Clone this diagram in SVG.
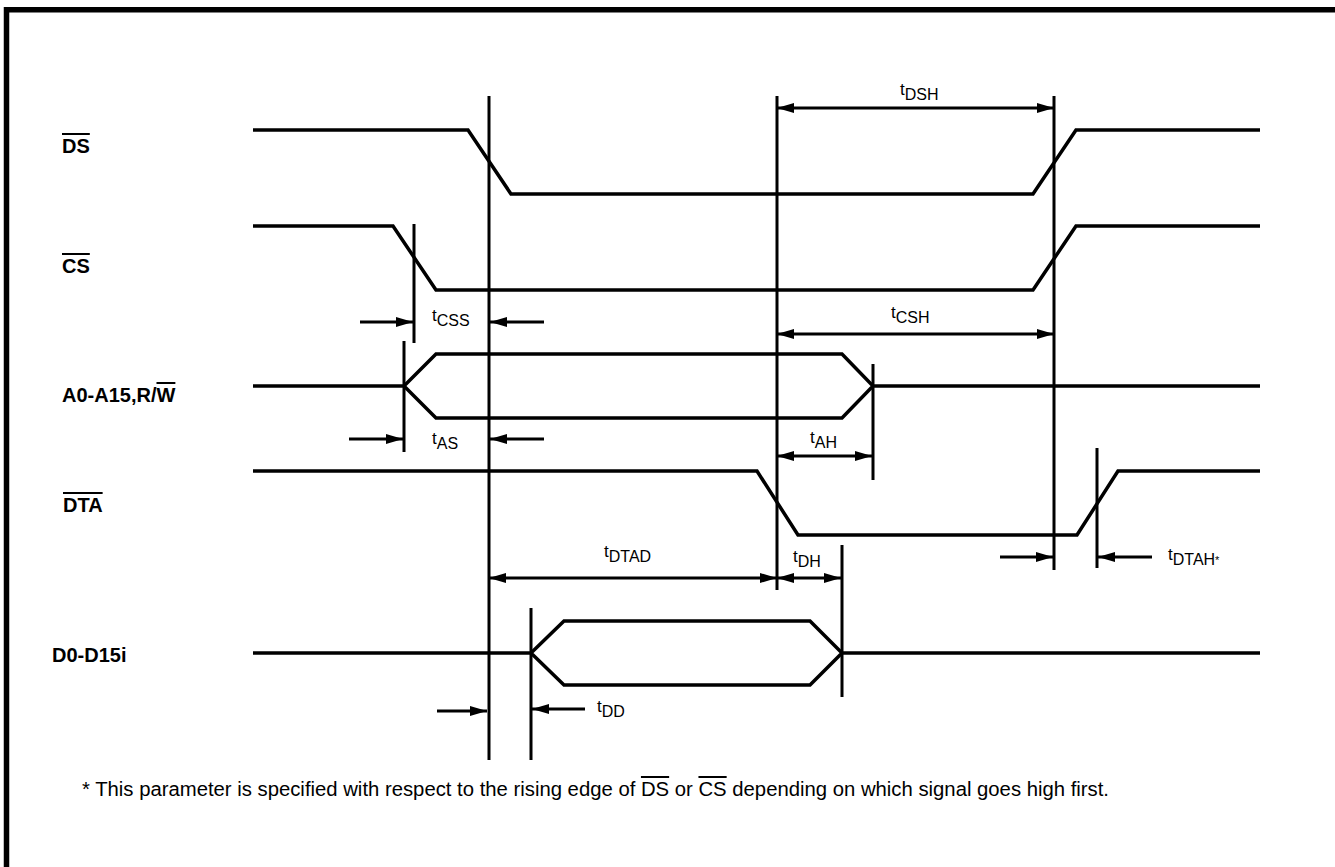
<svg xmlns="http://www.w3.org/2000/svg" width="1335" height="867" viewBox="0 0 1335 867">
<defs>
<marker id="ah" markerUnits="userSpaceOnUse" markerWidth="17" markerHeight="10" refX="17" refY="5" orient="auto-start-reverse" viewBox="0 0 17 10">
<path d="M0,0 L17,5 L0,10 z" fill="#000"/>
</marker>
<style>
.sig{fill:none;stroke:#000;stroke-width:3.5;stroke-linejoin:miter}
.ref{fill:none;stroke:#000;stroke-width:3}
.dim{fill:none;stroke:#000;stroke-width:3}
.one{marker-end:url(#ah)}
.two{marker-start:url(#ah);marker-end:url(#ah)}
.lbl{font-family:"Liberation Sans",Arial,sans-serif;font-weight:bold;font-size:20px;fill:#000}
.tm{font-family:"Liberation Sans",Arial,sans-serif;font-size:17px;fill:#000}
.sub{font-size:16px}
.note{font-family:"Liberation Sans",Arial,sans-serif;font-size:20px;fill:#000}
.ov{text-decoration:overline}
</style>
</defs>
<rect width="1335" height="867" fill="#fff"/>
<path d="M6.5,870 V9.8 H1340" fill="none" stroke="#000" stroke-width="5.5"/>

<g id="sig-ds">
<text class="lbl" x="62" y="153"><tspan class="ov">DS</tspan></text>
<path class="sig" d="M253,130 H468 L511,194 H1033 L1076,130 H1260"/>
</g>
<g id="sig-cs">
<text class="lbl" x="62" y="273"><tspan class="ov">CS</tspan></text>
<path class="sig" d="M253,226 H393 L436,290 H1033 L1076,226 H1260"/>
</g>
<g id="sig-addr">
<text class="lbl" x="62" y="402">A0-A15,R/<tspan class="ov">W</tspan></text>
<path class="sig" d="M253,386 H404 L436,354 H842 L873,386 L842,418 H436 L404,386 M873,386 H1260"/>
</g>
<g id="sig-dta">
<text class="lbl" x="63" y="512"><tspan class="ov">DTA</tspan></text>
<path class="sig" d="M253,471 H757 L798,535 H1077 L1118,471 H1260"/>
</g>
<g id="sig-data">
<text class="lbl" x="52" y="662">D0-D15i</text>
<path class="sig" d="M253,653 H531 L564,621 H810 L842,653 L810,685 H564 L531,653 M842,653 H1260"/>
</g>

<g id="connectors">
<path class="ref" d="M489,96 V760 M777,96 V590 M1054,96 V570 M414,224 V343 M404,341 V452 M873,364 V480 M1097,448 V568 M842,545 V697 M531,608 V760"/>
<line class="dim two" x1="777" y1="108" x2="1054" y2="108"/>
<line class="dim one" x1="360" y1="322" x2="413" y2="322"/>
<line class="dim one" x1="544" y1="322" x2="490" y2="322"/>
<line class="dim two" x1="777" y1="334" x2="1054" y2="334"/>
<line class="dim one" x1="349" y1="439" x2="403" y2="439"/>
<line class="dim one" x1="544" y1="439" x2="490" y2="439"/>
<line class="dim two" x1="777" y1="456" x2="872" y2="456"/>
<line class="dim one" x1="1000" y1="557" x2="1053" y2="557"/>
<line class="dim one" x1="1152" y1="557" x2="1098" y2="557"/>
<line class="dim two" x1="489" y1="578" x2="777" y2="578"/>
<line class="dim two" x1="777" y1="578" x2="841" y2="578"/>
<line class="dim one" x1="437" y1="711" x2="487" y2="711"/>
<line class="dim one" x1="585" y1="709" x2="532" y2="709"/>
</g>

<g id="labels">
<text class="tm" x="900" y="95">t<tspan class="sub" dy="5">DSH</tspan></text>
<text class="tm" x="432" y="321">t<tspan class="sub" dy="5">CSS</tspan></text>
<text class="tm" x="891" y="318">t<tspan class="sub" dy="5">CSH</tspan></text>
<text class="tm" x="432" y="444">t<tspan class="sub" dy="5">AS</tspan></text>
<text class="tm" x="810" y="443">t<tspan class="sub" dy="5">AH</tspan></text>
<text class="tm" x="1168" y="560">t<tspan class="sub" dy="5">DTAH</tspan><tspan font-size="11" dy="-1">*</tspan></text>
<text class="tm" x="604" y="557">t<tspan class="sub" dy="5">DTAD</tspan></text>
<text class="tm" x="793" y="562">t<tspan class="sub" dy="5">DH</tspan></text>
<text class="tm" x="597" y="712">t<tspan class="sub" dy="5">DD</tspan></text>
</g>

<text class="note" x="82" y="796" textLength="1027" lengthAdjust="spacingAndGlyphs">* This parameter is specified with respect to the rising edge of <tspan class="ov">DS</tspan> or <tspan class="ov">CS</tspan> depending on which signal goes high first.</text>
</svg>
